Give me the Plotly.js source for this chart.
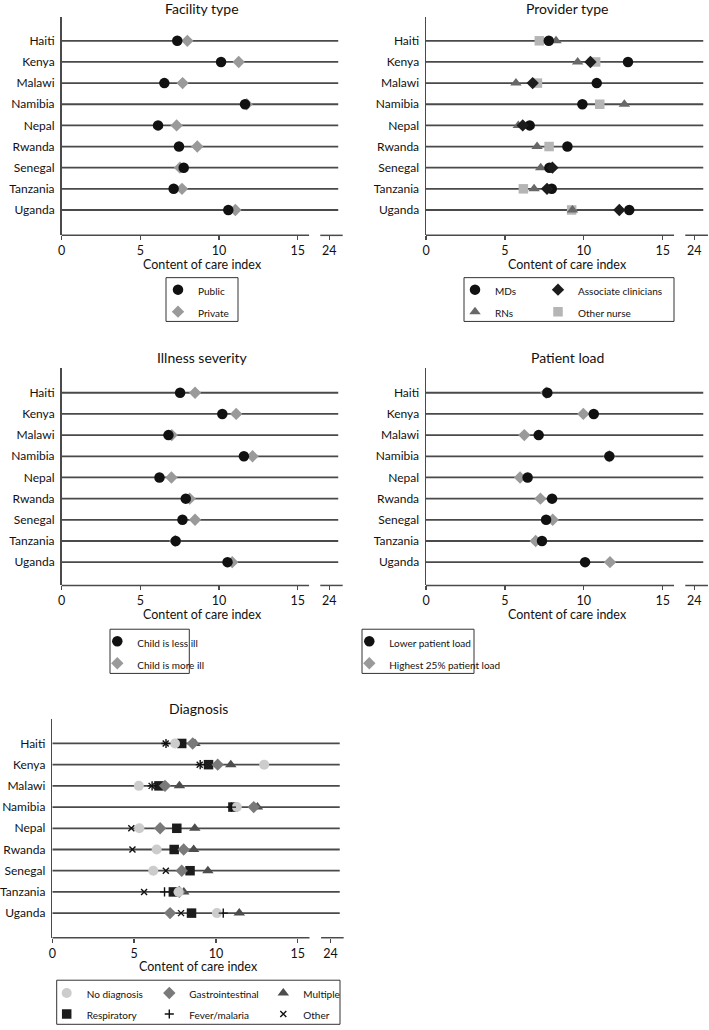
<!DOCTYPE html>
<html><head><meta charset="utf-8">
<script src="https://cdn.plot.ly/plotly-3.0.1.min.js"></script>
<style>html,body{margin:0;padding:0;background:#fff}#chart{width:709px;height:1030px}</style>
</head><body><div id="chart"></div>
<script>
// ---------- data ----------
const countries = ['Haiti','Kenya','Malawi','Namibia','Nepal','Rwanda','Senegal','Tanzania','Uganda'];
const xTickVals = [0, 5, 10, 15, 17];
const xTickText = ['0', '5', '10', '15', '24'];

// Facility type
const facilityPublic  = [7.35, 10.13, 6.53, 11.65, 6.13, 7.46, 7.76, 7.12, 10.59];
const facilityPrivate = [7.99, 11.25, 7.69, 11.76, 7.31, 8.62, 7.52, 7.65, 11.04];

// Provider type
const providerMDs        = [7.78, 12.80, 10.82, 9.91, 6.57, 8.96, 7.82, 7.97, 12.88];
const providerAssoc      = [null, 10.42, 6.76, null, 6.13, null, 8.01, 7.67, 12.25];
const providerRNs        = [8.24, 9.61, 5.70, 12.57, 5.85, 7.04, 7.27, 6.85, 9.28];
const providerOtherNurse = [7.18, 10.75, 7.06, 11.01, null, 7.80, null, 6.17, 9.23];

// Illness severity
const illnessLess = [7.53, 10.21, 6.79, 11.58, 6.22, 7.89, 7.68, 7.25, 10.54];
const illnessMore = [8.48, 11.09, 7.00, 12.13, 6.98, 8.14, 8.48, 7.22, 10.84];

// Patient load
const loadLower   = [7.69, 10.63, 7.14, 11.62, 6.44, 7.99, 7.61, 7.35, 10.08];
const loadHighest = [7.62, 9.97, 6.23, 11.62, 5.96, 7.25, 8.03, 6.95, 11.66];

// Diagnosis
const diagNone     = [7.50, 12.95, 5.29, 11.28, 5.32, 6.38, 6.17, 7.72, 10.06];
const diagResp     = [7.91, 9.55, 6.52, 11.04, 7.61, 7.45, 8.42, 7.40, 8.51];
const diagGastro   = [8.58, 10.11, 6.89, 12.31, 6.59, 8.03, 7.91, 7.76, 7.20];
const diagFever    = [6.95, 9.04, 6.10, 10.95, null, null, null, 6.86, 10.45];
const diagMultiple = [8.72, 10.91, 7.77, 12.54, 8.71, 8.64, 9.51, 8.04, 11.43];
const diagOther    = [6.93, 9.01, 6.07, null, 4.83, 4.90, 6.94, 5.61, 7.87];

// ---------- layout helpers ----------
const W = 709, H = 1030;
const FONT = 'Lato, "Open Sans", "DejaVu Sans", sans-serif';
const px = v => v / W;
const py = v => 1 - v / H;
const yIdx = countries.map((c, i) => i);
const BREAK1 = 15.72, BREAK2 = 16.43, GRID_END = 17.57;

const panels = [
  {id: '',  title: 'Facility type',    left: 61.5, right: 343,   top: 17,  bottom: 236.5, scale: 15.75, yr: [9.2, -1.13], titleY: 9},
  {id: '2', title: 'Provider type',    left: 426,  right: 708.3, top: 17,  bottom: 236.5, scale: 15.78, yr: [9.2, -1.13], titleY: 9},
  {id: '3', title: 'Illness severity', left: 61.5, right: 343,   top: 370, bottom: 588.3, scale: 15.75, yr: [9.1, -1.16], titleY: 359.5},
  {id: '4', title: 'Patient load',     left: 426,  right: 708.3, top: 370, bottom: 588.3, scale: 15.78, yr: [9.1, -1.16], titleY: 359.5},
  {id: '5', title: 'Diagnosis',        left: 52.3, right: 344,   top: 723, bottom: 942.3, scale: 16.36, yr: [9.16, -1.13], titleY: 712}
];

const layout = {
  width: W, height: H,
  margin: {l: 0, r: 0, t: 0, b: 0},
  paper_bgcolor: '#fff', plot_bgcolor: 'rgba(0,0,0,0)',
  font: {family: FONT, color: '#111', size: 12},
  showlegend: true,
  shapes: [], annotations: [],
  hovermode: false
};

const LINE = '#4a4a4a';
panels.forEach(p => {
  const xr = (p.right - p.left) / p.scale;
  layout['xaxis' + p.id] = {
    domain: [px(p.left), px(p.right)], range: [0, xr], anchor: 'y' + p.id,
    showline: false, showgrid: false, zeroline: false,
    tickmode: 'array', tickvals: xTickVals, ticktext: xTickText,
    ticks: 'outside', ticklen: 4, tickwidth: 1.3, tickcolor: LINE,
    tickfont: {size: 12.5, family: FONT, color: '#111'}, fixedrange: true
  };
  layout['yaxis' + p.id] = {
    domain: [py(p.bottom), py(p.top)], range: p.yr, anchor: 'x' + p.id,
    showline: true, linecolor: LINE, linewidth: 1.5, showgrid: false, zeroline: false,
    tickmode: 'array', tickvals: yIdx, ticktext: countries, ticks: '',
    ticklabelstandoff: 3,
    tickfont: {size: 12, family: FONT, color: '#111'}, fixedrange: true
  };
  const xa = 'x' + p.id, ya = 'y' + p.id;
  // row lines
  yIdx.forEach(i => layout.shapes.push({type: 'line', xref: xa, yref: ya, x0: 0, x1: GRID_END, y0: i, y1: i,
    line: {color: LINE, width: 1.8}, layer: 'below'}));
  // broken x axis
  [[0, BREAK1], [BREAK2, xr - 0.02]].forEach(seg => layout.shapes.push({type: 'line', xref: xa, yref: ya + ' domain',
    x0: seg[0], x1: seg[1], y0: 0, y1: 0, line: {color: LINE, width: 1.5}}));
  // titles
  layout.annotations.push({text: p.title, xref: 'paper', yref: 'paper', x: px((p.left + p.right) / 2), y: py(p.titleY),
    xanchor: 'center', yanchor: 'middle', showarrow: false, font: {size: 14, family: FONT, color: '#111'}});
  layout.annotations.push({text: 'Content of care index', xref: 'paper', yref: 'paper', x: px((p.left + p.right) / 2), y: py(p.bottom + 29),
    xanchor: 'center', yanchor: 'middle', showarrow: false, font: {size: 12.5, family: FONT, color: '#111'}});
});

// legend boxes (px)
const legendBoxes = [
  [166, 279, 238, 323],
  [464, 279, 674, 323],
  [110, 632.3, 189.3, 676.7],
  [362, 632.3, 474, 676.7],
  [56.7, 985, 340, 1029.3]
];
legendBoxes.forEach(b => layout.shapes.push({type: 'rect', xref: 'paper', yref: 'paper',
  x0: px(b[0]), x1: px(b[2]), y0: py(b[1]), y1: py(b[3]),
  line: {color: '#333', width: 1}, fillcolor: 'rgba(0,0,0,0)'}));
// legend columns: [symbol x, first row y, font size that sets row pitch]
const legendCols = {
  legend:  [178, 291, 14.6],
  legend2: [475, 291, 14.6],
  legend6: [558, 291, 14.6],
  legend3: [117.3, 644.3, 14.6],
  legend4: [369.3, 644.3, 14.6],
  legend5: [66.7, 998.3, 13.8],
  legend7: [169.3, 998.3, 13.8],
  legend8: [283.3, 998.3, 13.8]
};
Object.keys(legendCols).forEach(k => {
  const c = legendCols[k];
  layout[k] = {
    x: px(c[0] - 20), y: py(c[1] - 16), xanchor: 'left', yanchor: 'top',
    orientation: 'v', traceorder: 'normal', tracegroupgap: 0,
    bgcolor: 'rgba(0,0,0,0)', borderwidth: 0,
    font: {family: FONT, size: c[2], color: '#111'},
    itemclick: false, itemdoubleclick: false
  };
});

const lbl = t => '<span style="font-size:10px">' + t + '</span>';
const traces = [];
function add(axId, name, vals, marker, legend, rank) {
  traces.push({type: 'scatter', mode: 'markers', x: vals, y: yIdx, name: lbl(name),
    xaxis: 'x' + axId, yaxis: 'y' + axId, marker: marker, legend: legend, legendrank: rank, cliponaxis: false});
}
const BLACK = '#111111', GREY = '#9a9a9a';
// Facility
add('', 'Private', facilityPrivate, {symbol: 'diamond', size: 9.5, color: GREY}, 'legend', 2);
add('', 'Public', facilityPublic, {symbol: 'circle', size: 10.5, color: BLACK}, 'legend', 1);
// Provider
add('2', 'Other nurse', providerOtherNurse, {symbol: 'square', size: 9.5, color: '#b5b5b5'}, 'legend6', 2);
add('2', 'RNs', providerRNs, {symbol: 'triangle-up', size: 10, color: '#686868'}, 'legend2', 2);
add('2', 'MDs', providerMDs, {symbol: 'circle', size: 10.5, color: BLACK}, 'legend2', 1);
add('2', 'Associate clinicians', providerAssoc, {symbol: 'diamond', size: 9.5, color: '#1c1c1c'}, 'legend6', 1);
// Illness
add('3', 'Child is more ill', illnessMore, {symbol: 'diamond', size: 9.5, color: GREY}, 'legend3', 2);
add('3', 'Child is less ill', illnessLess, {symbol: 'circle', size: 10.5, color: BLACK}, 'legend3', 1);
// Patient load
add('4', 'Highest 25% patient load', loadHighest, {symbol: 'diamond', size: 9.5, color: GREY}, 'legend4', 2);
add('4', 'Lower patient load', loadLower, {symbol: 'circle', size: 10.5, color: BLACK}, 'legend4', 1);
// Diagnosis
add('5', 'Multiple', diagMultiple, {symbol: 'triangle-up', size: 10, color: '#4d4d4d'}, 'legend8', 1);
add('5', 'Respiratory', diagResp, {symbol: 'square', size: 9.5, color: '#1c1c1c'}, 'legend5', 2);
add('5', 'Gastrointestinal', diagGastro, {symbol: 'diamond', size: 9.5, color: '#7a7a7a'}, 'legend7', 1);
add('5', 'No diagnosis', diagNone, {symbol: 'circle', size: 10, color: '#cccccc'}, 'legend5', 1);
add('5', 'Fever/malaria', diagFever, {symbol: 'cross-thin', size: 6.5, color: BLACK, line: {color: BLACK, width: 1.4}}, 'legend7', 2);
add('5', 'Other', diagOther, {symbol: 'x-thin', size: 6, color: BLACK, line: {color: BLACK, width: 1.4}}, 'legend8', 2);

Plotly.newPlot('chart', traces, layout, {displayModeBar: false, staticPlot: true});
</script>
</body></html>
